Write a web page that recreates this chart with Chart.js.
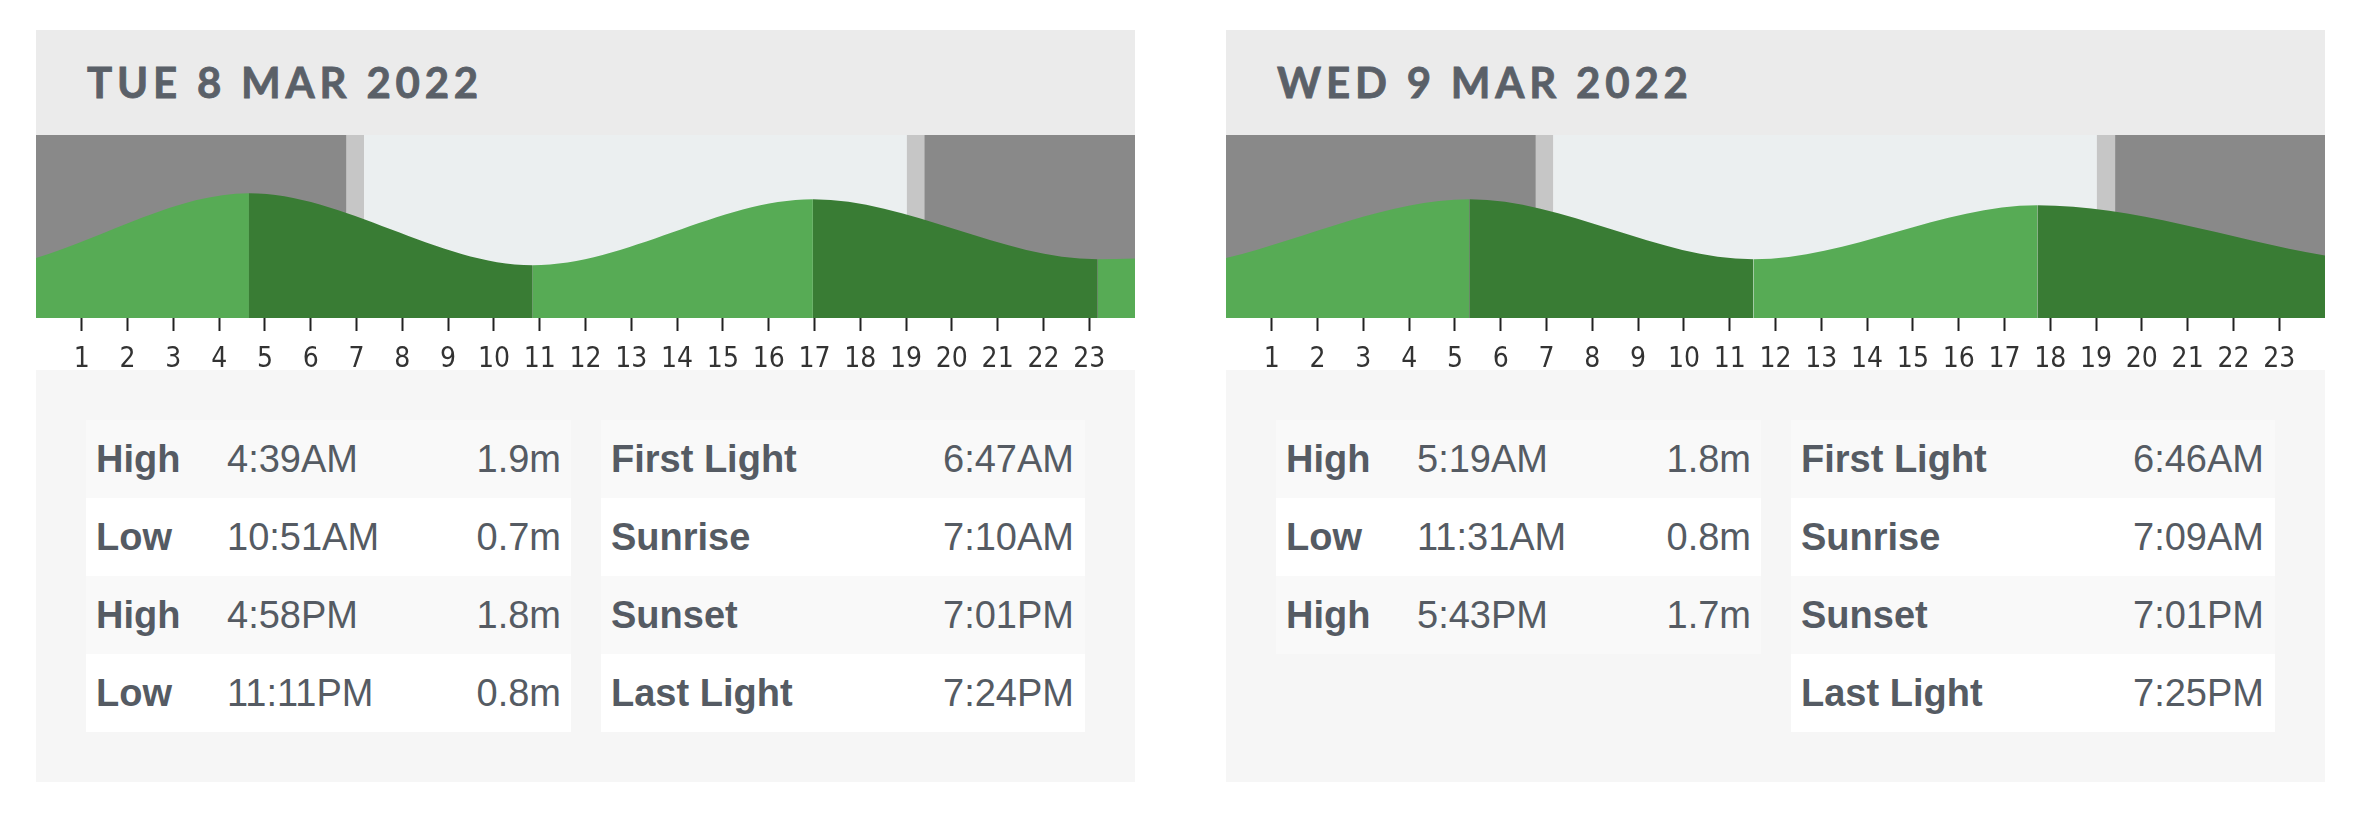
<!DOCTYPE html>
<html>
<head>
<meta charset="utf-8">
<script src="https://cdn.jsdelivr.net/npm/chart.js@4.4.1/dist/chart.umd.min.js"></script>
<style>
  body { margin: 0; background: #fff; width: 2358px; height: 816px; overflow: hidden;
         font-family: 'Liberation Sans', Arial, sans-serif; color: #555b63; }
  .card { position: absolute; top: 30px; width: 1099px; height: 752px; background: #fff; }
  .head { position: absolute; top: 0; left: 0; width: 100%; height: 105px; background: #ebebeb; }
  .head span { position: absolute; left: 51px; top: 27px; font-family: Lato, 'Open Sans', sans-serif;
               font-weight: 700; font-size: 42px; letter-spacing: 4.8px; color: #5a6068; line-height: 50px;
               -webkit-text-stroke: 0.8px #5a6068; }
  .chartbox { position: absolute; top: 105px; left: 0; width: 1099px; height: 236px; z-index: 2; }
  .info { position: absolute; top: 340px; left: 0; width: 100%; height: 412px; background: #f6f6f6; }
  .tbl { position: absolute; top: 50px; }
  .row { position: relative; height: 78px; line-height: 78px; font-size: 38px; }
  .row:nth-child(odd) { background: #f9f9f9; }
  .row:nth-child(even) { background: #fff; }
  .row b { position: absolute; left: 10px; }
  .row .t { position: absolute; left: 141px; }
  .row .v { position: absolute; right: 10px; }
</style>
</head>
<body>
<div class="card" id="card1" style="left:36px">
  <div class="head"><span id="title1"></span></div>
  <div class="chartbox"><canvas id="tide1"></canvas></div>
  <div class="info">
    <div class="tbl" id="tides1" style="left:50px;width:485px"></div>
    <div class="tbl" id="sun1" style="left:565px;width:484px"></div>
  </div>
</div>
<div class="card" id="card2" style="left:1226px">
  <div class="head"><span id="title2"></span></div>
  <div class="chartbox"><canvas id="tide2"></canvas></div>
  <div class="info">
    <div class="tbl" id="tides2" style="left:50px;width:485px"></div>
    <div class="tbl" id="sun2" style="left:565px;width:484px"></div>
  </div>
</div>
<script>
const dayTitles = ['TUE 8 MAR 2022', 'WED 9 MAR 2022'];

const tideKinds1 = ['High', 'Low', 'High', 'Low'];
const tideTimes1 = ['4:39AM', '10:51AM', '4:58PM', '11:11PM'];
const tideHeights1 = [1.9, 0.7, 1.8, 0.8];
const midnightHeights1 = [0.82, 0.81];   // water level at 0h and 24h

const tideKinds2 = ['High', 'Low', 'High'];
const tideTimes2 = ['5:19AM', '11:31AM', '5:43PM'];
const tideHeights2 = [1.8, 0.8, 1.7];
const midnightHeights2 = [0.82, 0.86];

const sunLabels = ['First Light', 'Sunrise', 'Sunset', 'Last Light'];
const sunTimes1 = ['6:47AM', '7:10AM', '7:01PM', '7:24PM'];
const sunTimes2 = ['6:46AM', '7:09AM', '7:01PM', '7:25PM'];

const NIGHT = '#898989';
const TWILIGHT = '#c6c6c6';
const DAY = '#ebeff0';
const RISING = '#57ab55';
const FALLING = '#397c34';

function toHours(str) {
  const m = str.match(/(\d+):(\d+)(AM|PM)/);
  let h = parseInt(m[1]) % 12;
  if (m[3] === 'PM') h += 12;
  return h + parseInt(m[2]) / 60;
}

// night / twilight / day bands behind the tide curve
const skyPlugin = {
  id: 'sky',
  beforeDatasetsDraw(chart, args, opts) {
    const {ctx, chartArea: {top, bottom}, scales: {x}} = chart;
    const t = opts.times.map(toHours);
    const bands = [[0, t[0], NIGHT], [t[0], t[1], TWILIGHT], [t[1], t[2], DAY],
                   [t[2], t[3], TWILIGHT], [t[3], 24, NIGHT]];
    ctx.save();
    bands.forEach(function(b) {
      const x0 = x.getPixelForValue(b[0]);
      const x1 = x.getPixelForValue(b[1]);
      ctx.fillStyle = b[2];
      ctx.fillRect(x0, top, x1 - x0, bottom - top);
    });
    ctx.restore();
  }
};

function makeChart(canvasId, times, heights, midnight, sunTimes) {
  const points = [{x: 0, y: midnight[0]}];
  times.forEach(function(t, i) {
    points.push({x: toHours(t), y: heights[i]});
  });
  points.push({x: 24, y: midnight[1]});

  return new Chart(document.getElementById(canvasId), {
    type: 'line',
    data: {
      datasets: [{
        data: points,
        fill: 'start',
        borderWidth: 0,
        pointRadius: 0,
        cubicInterpolationMode: 'monotone',
        backgroundColor: RISING,
        segment: {
          backgroundColor: ctx => ctx.p1.parsed.y > ctx.p0.parsed.y ? RISING : FALLING
        }
      }]
    },
    options: {
      responsive: true,
      maintainAspectRatio: false,
      animation: false,
      layout: { padding: 0 },
      plugins: {
        legend: { display: false },
        tooltip: { enabled: false },
        sky: { times: sunTimes }
      },
      scales: {
        x: {
          type: 'linear',
          min: 0,
          max: 24,
          border: { display: false },
          afterBuildTicks: axis => {
            axis.ticks = axis.ticks.filter(t => t.value > 0 && t.value < 24);
          },
          afterFit: axis => { axis.height = 53; },
          grid: { drawOnChartArea: false, tickLength: 13, tickWidth: 2, color: '#222' },
          ticks: {
            stepSize: 1,
            autoSkip: false,
            maxRotation: 0,
            padding: 12,
            color: '#333',
            font: { family: "'Liberation Sans Narrow', 'Arial Narrow', 'DejaVu Sans Condensed', sans-serif", size: 28 }
          }
        },
        y: { display: false, min: -0.18, max: 2.87 }
      }
    },
    plugins: [skyPlugin]
  });
}

function fillTides(id, kinds, times, heights) {
  const box = document.getElementById(id);
  kinds.forEach(function(k, i) {
    const row = document.createElement('div');
    row.className = 'row';
    row.innerHTML = `<b>${k}</b><span class="t">${times[i]}</span><span class="v">${heights[i].toFixed(1)}m</span>`;
    box.appendChild(row);
  });
}

function fillSun(id, times) {
  const box = document.getElementById(id);
  sunLabels.forEach(function(label, i) {
    const row = document.createElement('div');
    row.className = 'row';
    row.innerHTML = `<b>${label}</b><span class="v" style="right:11px">${times[i]}</span>`;
    box.appendChild(row);
  });
}

document.getElementById('title1').textContent = dayTitles[0];
document.getElementById('title2').textContent = dayTitles[1];

makeChart('tide1', tideTimes1, tideHeights1, midnightHeights1, sunTimes1);
makeChart('tide2', tideTimes2, tideHeights2, midnightHeights2, sunTimes2);

fillTides('tides1', tideKinds1, tideTimes1, tideHeights1);
fillTides('tides2', tideKinds2, tideTimes2, tideHeights2);
fillSun('sun1', sunTimes1);
fillSun('sun2', sunTimes2);
</script>
</body>
</html>
